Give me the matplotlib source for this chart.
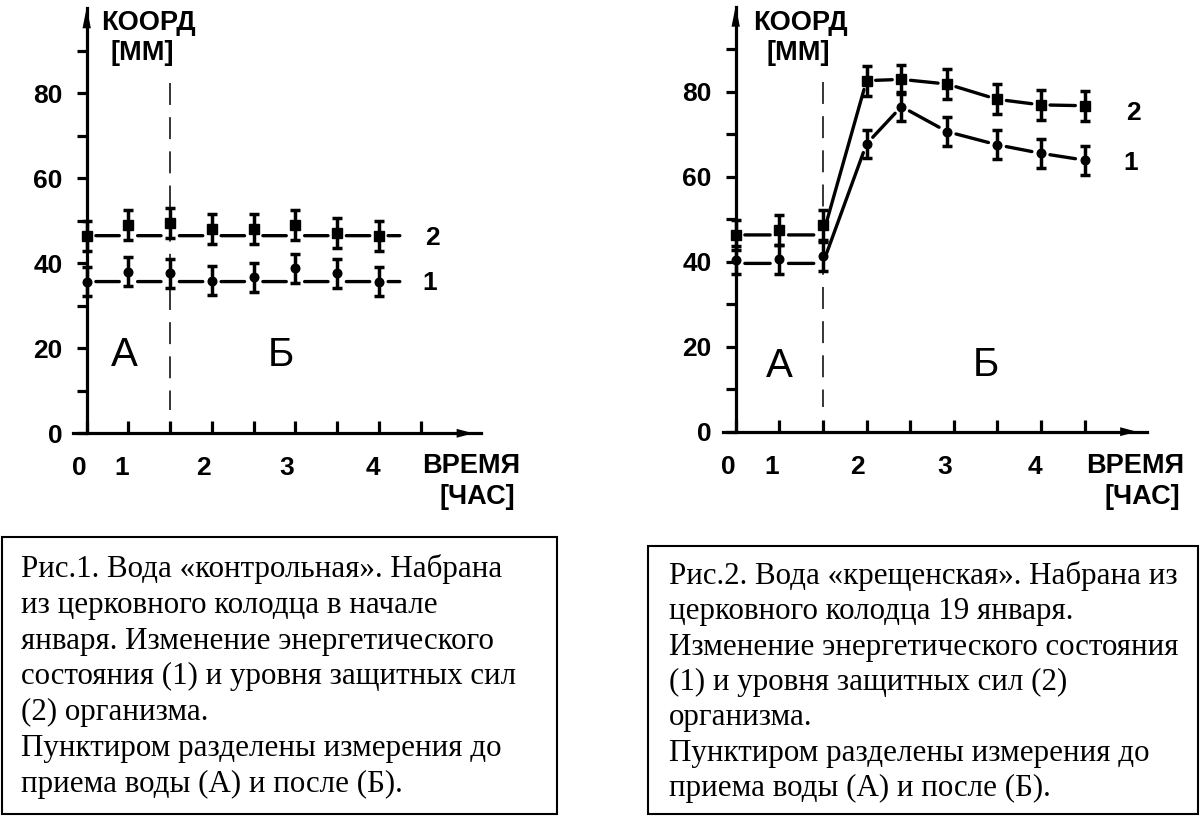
import matplotlib
matplotlib.use("Agg")
import matplotlib.pyplot as plt
from matplotlib.patches import Rectangle

# ---------------- data ----------------
x_tick_labels = ["0", "1", "2", "3", "4"]
x_tick_label_pos = [-0.18, 0.83, 2.8, 4.79, 6.86]
x_tick_marks = [0, 1, 2, 3, 4, 5, 6, 7, 8]
y_major = [0, 20, 40, 60, 80]
y_minor = [10, 30, 50, 70, 90]
divider_x = 2

# Fig.1 (control water)
p1_x = [0, 1, 2, 3, 4, 5, 6, 7]
p1_s1 = [35.7, 38.0, 37.6, 35.9, 36.7, 38.8, 37.6, 35.7]
p1_s2 = [46.5, 49.0, 49.5, 48.1, 48.1, 49.0, 47.2, 46.5]
p1_err1 = [3.4, 3.4, 3.4, 3.4, 3.4, 3.4, 3.4, 3.4]
p1_err2 = [3.5, 3.5, 3.5, 3.5, 3.5, 3.5, 3.5, 3.5]
p1_line1 = [35.7, 35.7, 35.7, 35.7, 35.7, 35.7, 35.7, 35.7]
p1_line2 = [46.5, 46.5, 46.5, 46.5, 46.5, 46.5, 46.5, 46.5]

# Fig.2 (Epiphany water)
p2_x = [0, 1, 2, 3, 3.8, 4.85, 6, 7, 8]
p2_s1 = [40.4, 40.6, 41.3, 67.7, 76.5, 70.6, 67.5, 65.5, 63.9]
p2_s2 = [46.3, 47.5, 48.6, 82.6, 82.9, 81.8, 78.2, 76.9, 76.7]
p2_err1 = [3.4, 3.4, 3.4, 3.4, 3.4, 3.4, 3.4, 3.4, 3.4]
p2_err2 = [3.5, 3.5, 3.5, 3.5, 3.5, 3.5, 3.5, 3.5, 3.5]
p2_line1 = [39.6, 39.6, 39.6, 67.7, 76.5, 70.6, 67.5, 65.5, 63.9]
p2_line2 = [46.3, 46.3, 46.3, 82.6, 82.9, 81.8, 78.2, 76.9, 76.7]

cap1 = ["Рис.1. Вода «контрольная». Набрана",
        "из церковного колодца в начале",
        "января. Изменение энергетического",
        "состояния (1) и уровня защитных сил",
        "(2) организма.",
        "Пунктиром разделены измерения до",
        "приема воды (А) и после (Б)."]
cap2 = ["Рис.2. Вода «крещенская». Набрана из",
        "церковного колодца 19 января.",
        "Изменение энергетического состояния",
        "(1) и уровня защитных сил (2)",
        "организма.",
        "Пунктиром разделены измерения до",
        "приема воды (А) и после (Б)."]

# ---------------- style ----------------
W, H = 1200, 816
plt.rcParams["font.family"] = ["Liberation Sans", "DejaVu Sans"]
plt.rcParams["lines.scale_dashes"] = False
fig = plt.figure(figsize=(W / 100, H / 100), dpi=100)
fig.patch.set_facecolor("white")

LW = 2.3
NUM = 19
TXT = dict(fontsize=19.5, fontweight="bold", color="k")


def ftext(px, py, s, **kw):
    fig.text(px / W, 1 - py / H, s, **kw)


def make_panel(x0, sx, y0, sy, xlim, ylim, spine_x, arrow_x):
    left = x0 + xlim[0] * sx
    right = x0 + xlim[1] * sx
    top = y0 - ylim[1] * sy
    bottom = y0 - ylim[0] * sy
    ax = fig.add_axes([left / W, 1 - bottom / H, (right - left) / W, (bottom - top) / H])
    ax.set_xlim(xlim)
    ax.set_ylim(ylim)
    ax.patch.set_alpha(0)
    for s in ("top", "right"):
        ax.spines[s].set_visible(False)
    ax.spines["left"].set_position(("data", 0))
    ax.spines["bottom"].set_position(("data", 0))
    ax.spines["left"].set_bounds(0, 100)
    ax.spines["bottom"].set_bounds(*spine_x)
    ax.spines["left"].set_linewidth(LW)
    ax.spines["bottom"].set_linewidth(LW)
    # x ticks: marks at every measurement slot, labels at their own positions
    ax.set_xticks(x_tick_label_pos, x_tick_labels)
    ax.set_xticks(x_tick_marks, minor=True)
    ax.tick_params(axis="x", which="major", length=0, pad=16.5, labelsize=NUM)
    ax.tick_params(axis="x", which="minor", direction="in", length=8.3, width=LW)
    ax.set_yticks(y_major)
    ax.set_yticks(y_minor, minor=True)
    ax.tick_params(axis="y", which="both", direction="out", length=7, width=LW)
    ax.tick_params(axis="y", which="major", pad=10.5, labelsize=NUM)
    for lab in ax.get_xticklabels() + ax.get_yticklabels():
        lab.set_fontweight("bold")
    # axis arrows
    ax.annotate("", xy=(0, 100.2), xytext=(0, 94.5),
                arrowprops=dict(arrowstyle="-|>,head_length=15,head_width=3.0",
                                mutation_scale=1, fc="k", ec="none", lw=0,
                                shrinkA=0, shrinkB=0), annotation_clip=False)
    ax.annotate("", xy=(arrow_x, 0), xytext=(arrow_x - 0.4, 0),
                arrowprops=dict(arrowstyle="-|>,head_length=12,head_width=3.2",
                                mutation_scale=1, fc="k", ec="none", lw=0,
                                shrinkA=0, shrinkB=0), annotation_clip=False)
    return ax


def seg(ax, xa, ya, xb, yb, sa=6.6, sb=6.6):
    ax.annotate("", xy=(xb, yb), xytext=(xa, ya),
                arrowprops=dict(arrowstyle="-", color="k", lw=2.4,
                                shrinkA=sa, shrinkB=sb),
                annotation_clip=False)


def draw_series(ax, xs, ys, errs, line, marker, ms):
    for i in range(len(xs) - 1):
        seg(ax, xs[i], line[i], xs[i + 1], line[i + 1])
    ax.errorbar(xs, ys, yerr=errs, fmt=marker, ms=ms, color="k", mfc="k", mec="k",
                elinewidth=2.5, capsize=3.4, capthick=2.5, zorder=5, clip_on=False)


def divider(ax, top, bottom):
    ax.plot([divider_x, divider_x], [top, bottom], color="k", lw=1.1,
            dashes=(15.8, 8.8), solid_capstyle="butt")


# ---------------- panel 1 ----------------
ax1 = make_panel(86.7, 41.75, 433.3, 4.25, (-2, 11), (-20, 102), (-0.32, 9.44), 9.26)
divider(ax1, 82.4, 5.4)
draw_series(ax1, p1_x, p1_s2, p1_err2, p1_line2, "s", 7.0)
draw_series(ax1, p1_x, p1_s1, p1_err1, p1_line1, "o", 6.2)
seg(ax1, p1_x[-1], p1_line2[-1], p1_x[-1] + 0.5, p1_line2[-1], 6.6, 0)
seg(ax1, p1_x[-1], p1_line1[-1], p1_x[-1] + 0.5, p1_line1[-1], 6.6, 0)

# ---------------- panel 2 ----------------
ax2 = make_panel(735.7, 43.6, 431.7, 4.25, (-2, 10.5), (-20, 102), (-0.3, 9.43), 9.2)
divider(ax2, 82.3, 5.8)
draw_series(ax2, p2_x, p2_s2, p2_err2, p2_line2, "s", 7.0)
draw_series(ax2, p2_x, p2_s1, p2_err1, p2_line1, "o", 6.2)

# ---------------- axis titles and annotations ----------------
for (kx, mx, vx, cx, y2, y1, ax_, bx, by) in [
        (148, 142.5, 422, 440, (432.5, 238), (430, 283), (124, 354.7), 281, 354.7),
        (800.5, 798, 1086, 1104, (1133, 113), (1131, 162.5), (779, 366), 986, 365)]:
    ftext(kx, 23, "КООРД", ha="center", va="center", **TXT)
    ftext(mx, 53, "[ММ]", ha="center", va="center", **TXT)
    ftext(vx, 466, "ВРЕМЯ", ha="left", va="center", **TXT)
    ftext(cx, 497, "[ЧАС]", ha="left", va="center", **TXT)
    ftext(y2[0], y2[1], "2", ha="center", va="center", fontsize=NUM, fontweight="bold")
    ftext(y1[0], y1[1], "1", ha="center", va="center", fontsize=NUM, fontweight="bold")
    ftext(ax_[0], ax_[1], "А", ha="center", va="center", fontsize=29)
    ftext(bx, by, "Б", ha="center", va="center", fontsize=29)

# ---------------- caption boxes ----------------
for (x0, y0, x1, y1) in [(2, 537, 557, 814), (648, 546, 1198, 814)]:
    fig.patches.append(Rectangle((x0 / W, 1 - y1 / H), (x1 - x0) / W, (y1 - y0) / H,
                                 transform=fig.transFigure, fill=False, ec="k", lw=1.5))

CAP = dict(family=["Liberation Serif", "DejaVu Serif"], fontsize=22.3, color="k",
           ha="left", va="baseline")
for i, line in enumerate(cap1):
    ftext(21, 577 + i * 35.8, line, **CAP)
for i, line in enumerate(cap2):
    ftext(669, 584 + i * 35.3, line, **CAP)

fig.savefig("out.png", dpi=100, facecolor="white")
